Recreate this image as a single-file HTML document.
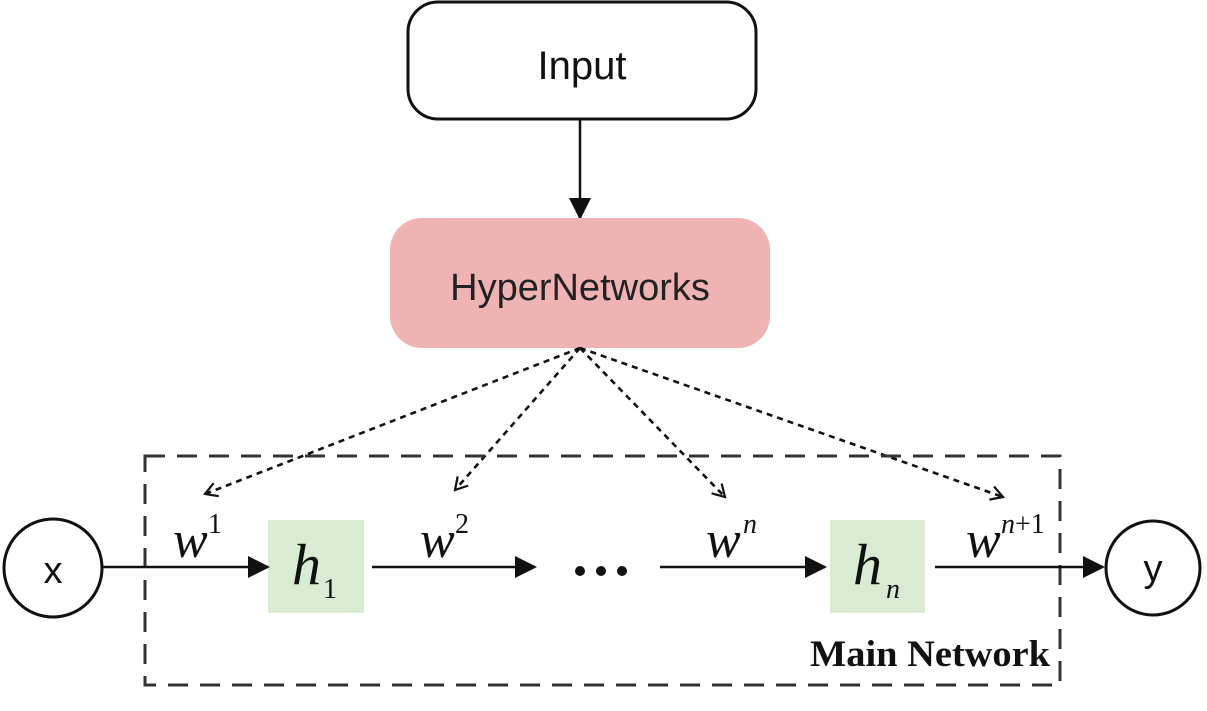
<!DOCTYPE html>
<html><head><meta charset="utf-8"><style>body{margin:0;background:#fff}</style></head><body>
<svg width="1207" height="706" xmlns="http://www.w3.org/2000/svg">
<defs>
<marker id="b" markerWidth="22" markerHeight="22" refX="20" refY="11" orient="auto" markerUnits="userSpaceOnUse"><path d="M0,0 L22,11 L0,22 z" fill="#111"/></marker>
<marker id="c" markerWidth="16" markerHeight="16" refX="14" refY="8" orient="auto" markerUnits="userSpaceOnUse"><path d="M2,1 L14,8 L2,15" fill="none" stroke="#111" stroke-width="2.2"/></marker>
</defs>
<rect x="408" y="2" width="348" height="117" rx="30" fill="#fff" stroke="#111" stroke-width="3"/>
<text x="582" y="79" font-family="Liberation Sans, sans-serif" font-size="40" text-anchor="middle" fill="#111">Input</text>
<line x1="580" y1="120" x2="580" y2="218" stroke="#111" stroke-width="2.5" marker-end="url(#b)"/>
<rect x="390" y="218" width="380" height="130" rx="32" fill="#f0b3b4"/>
<text x="580" y="300" font-family="Liberation Sans, sans-serif" font-size="38" text-anchor="middle" fill="#222">HyperNetworks</text>
<g stroke="#111" stroke-width="2.6" stroke-dasharray="6 5" fill="none">
<line x1="580" y1="348" x2="205" y2="494" marker-end="url(#c)"/>
<line x1="580" y1="348" x2="455" y2="490" marker-end="url(#c)"/>
<line x1="580" y1="348" x2="725" y2="497" marker-end="url(#c)"/>
<line x1="580" y1="348" x2="1003" y2="497" marker-end="url(#c)"/>
</g>
<rect x="145" y="456" width="915" height="229" fill="none" stroke="#333" stroke-width="3" stroke-dasharray="20 12"/>
<circle cx="53" cy="568" r="49" fill="#fff" stroke="#111" stroke-width="3"/>
<text x="53" y="583" font-family="Liberation Sans, sans-serif" font-size="38" text-anchor="middle" fill="#111">x</text>
<circle cx="1153" cy="568" r="47" fill="#fff" stroke="#111" stroke-width="3"/>
<text x="1153" y="581" font-family="Liberation Sans, sans-serif" font-size="38" text-anchor="middle" fill="#111">y</text>
<rect x="268" y="520" width="96" height="93" fill="#d9ecd3"/>
<rect x="830" y="520" width="95" height="93" fill="#d9ecd3"/>
<g stroke="#111" stroke-width="2.5">
<line x1="103" y1="567" x2="268" y2="567" marker-end="url(#b)"/>
<line x1="372" y1="567" x2="535" y2="567" marker-end="url(#b)"/>
<line x1="660" y1="567" x2="825" y2="567" marker-end="url(#b)"/>
<line x1="935" y1="567" x2="1103" y2="567" marker-end="url(#b)"/>
</g>
<g fill="#111"><circle cx="580" cy="571" r="5"/><circle cx="601" cy="571" r="5"/><circle cx="622" cy="571" r="5"/></g>
<g font-family="Liberation Serif, serif" fill="#111">
<text x="173" y="557" font-size="52" font-style="italic">w</text><text x="208" y="533" font-size="28">1</text>
<text x="420" y="557" font-size="52" font-style="italic">w</text><text x="455" y="533" font-size="28">2</text>
<text x="706" y="557" font-size="52" font-style="italic">w</text><text x="743" y="533" font-size="28" font-style="italic">n</text>
<text x="966" y="557" font-size="52" font-style="italic">w</text><text x="1001" y="533" font-size="28"><tspan font-style="italic">n</tspan>+1</text>
<text x="292" y="584" font-size="58" font-style="italic">h</text><text x="323" y="598" font-size="28">1</text>
<text x="853" y="584" font-size="58" font-style="italic">h</text><text x="886" y="598" font-size="28" font-style="italic">n</text>
<text x="810" y="666" font-size="37" font-weight="bold" textLength="240" lengthAdjust="spacingAndGlyphs">Main Network</text>
</g>
</svg>
</body></html>
